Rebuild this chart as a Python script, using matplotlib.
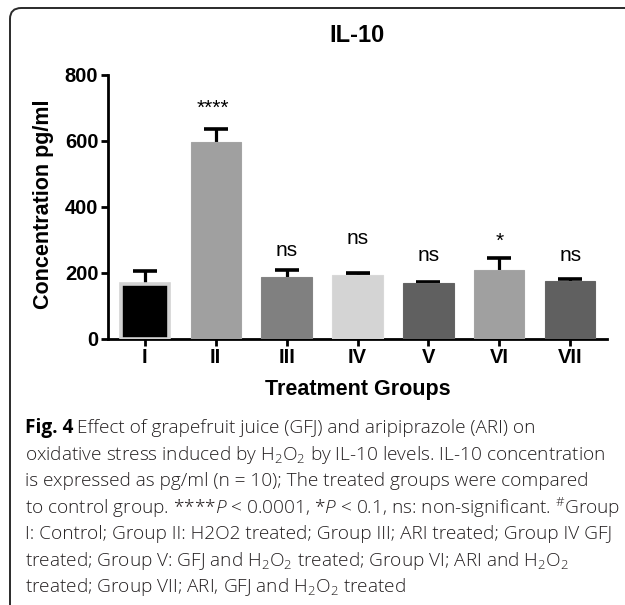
import matplotlib
matplotlib.use("Agg")
import matplotlib.pyplot as plt
from matplotlib.patches import FancyBboxPatch
import numpy as np

plt.rcParams['mathtext.fontset'] = 'custom'
plt.rcParams['mathtext.rm'] = 'Open Sans:light'
plt.rcParams['mathtext.it'] = 'Open Sans:italic:light'
plt.rcParams['mathtext.bf'] = 'Open Sans:bold'

# ---- data ----
groups = ["I", "II", "III", "IV", "V", "VI", "VII"]
means = [165, 596, 187, 194, 167, 209, 174]
errors = [40, 40, 20, 4, 4, 35, 6]
signif = ["", "****", "ns", "ns", "ns", "*", "ns"]
signif_y = [0, 700, 268, 304, 252, 295, 252]
colors = ["#000000", "#a0a0a0", "#808080", "#d4d4d4", "#606060", "#a0a0a0", "#606060"]
edgecolors = ["#d2d2d2", "#a4a4a4", "#848484", "#d8d8d8", "#646464", "#a4a4a4", "#646464"]
yticks = [0, 200, 400, 600, 800]

caption_lines = [
    None,
    r"oxidative stress induced by H$_2$O$_2$ by IL-10 levels. IL-10 concentration",
    r"is expressed as pg/ml (n = 10); The treated groups were compared",
    r"to control group. ****$P$ < 0.0001, *$P$ < 0.1, ns: non-significant. $^{\#}$Group",
    r"I: Control; Group II: H2O2 treated; Group III; ARI treated; Group IV GFJ",
    r"treated; Group V: GFJ and H$_2$O$_2$ treated; Group VI; ARI and H$_2$O$_2$",
    r"treated; Group VII; ARI, GFJ and H$_2$O$_2$ treated",
]

W, H = 625, 605
fig = plt.figure(figsize=(W / 100, H / 100), dpi=100)

# frame
box = FancyBboxPatch((10 / W, -0.2), 1.2, (H - 8) / H + 0.2,
                     boxstyle="round,pad=0,rounding_size=0.018",
                     transform=fig.transFigure, fill=False, lw=1.4,
                     edgecolor="#2a2a2a", clip_on=False)
fig.patches.append(box)

ax = fig.add_axes([108 / W, (H - 338.5) / H, (607 - 108) / W, (338.5 - 75) / H])
x = np.arange(len(groups))
font = "Liberation Sans"

ax.errorbar(x, means, yerr=errors, fmt="none", ecolor="black",
            elinewidth=2.3, capsize=8.3, capthick=2.6, zorder=2)
for i in range(len(groups)):
    lw = 2.6 if i == 0 else 0.8
    w = 0.68 if i == 0 else 0.71
    ax.bar(x[i], means[i], width=w, color=colors[i], edgecolor=edgecolors[i],
           linewidth=lw, zorder=3)

for i, s in enumerate(signif):
    if not s:
        continue
    if s == "ns":
        ax.text(x[i], signif_y[i], s, ha="center", va="center", fontsize=15,
                family=font)
    else:
        ax.text(x[i] - (0.04 if s == "****" else 0), signif_y[i], s,
                ha="center", va="center", fontsize=15, family=font)

ax.set_xlim(-0.52, 6.52)
ax.set_ylim(0, 800)
ax.set_yticks(yticks)
ax.set_xticks(x)
ax.set_xticklabels(groups)
for spine in ["top", "right"]:
    ax.spines[spine].set_visible(False)
for spine in ["left", "bottom"]:
    ax.spines[spine].set_linewidth(2.0)
ax.tick_params(axis="both", width=2.0, length=5, direction="out", pad=2)
for lab in ax.get_xticklabels() + ax.get_yticklabels():
    lab.set_fontfamily(font)
    lab.set_fontweight("bold")
    lab.set_fontsize(14.5)

fig.text(357 / W, 1 - 36 / H, "IL-10", ha="center", va="center", fontsize=17,
         fontweight="bold", family=font)
fig.text(358 / W, 1 - 390 / H, "Treatment Groups", ha="center", va="center",
         fontsize=15.5, fontweight="bold", family=font)
fig.text(44 / W, 1 - 204 / H, "Concentration pg/ml", ha="center", va="center",
         rotation=90, fontsize=15.5, fontweight="bold", family=font)

# caption
cap_font = "Open Sans"
cap_size = 13.7
line_y = [428, 455, 481.5, 508, 534, 560.5, 587]
t = fig.text(25 / W, 1 - line_y[0] / H, "Fig. 4", ha="left", va="center",
             fontsize=cap_size, fontweight="bold", family=cap_font)
fig.canvas.draw()
bb = t.get_window_extent()
fig.text(bb.x1 / W + 4 / W, 1 - line_y[0] / H,
         "Effect of grapefruit juice (GFJ) and aripiprazole (ARI) on",
         ha="left", va="center", fontsize=cap_size, family=cap_font,
         fontweight="light", color="#231f20")
for i in range(1, len(caption_lines)):
    fig.text(25 / W, 1 - line_y[i] / H, caption_lines[i], ha="left",
             va="center", fontsize=cap_size, family=cap_font,
             fontweight="light", color="#231f20")

fig.savefig("out.png", dpi=100)
